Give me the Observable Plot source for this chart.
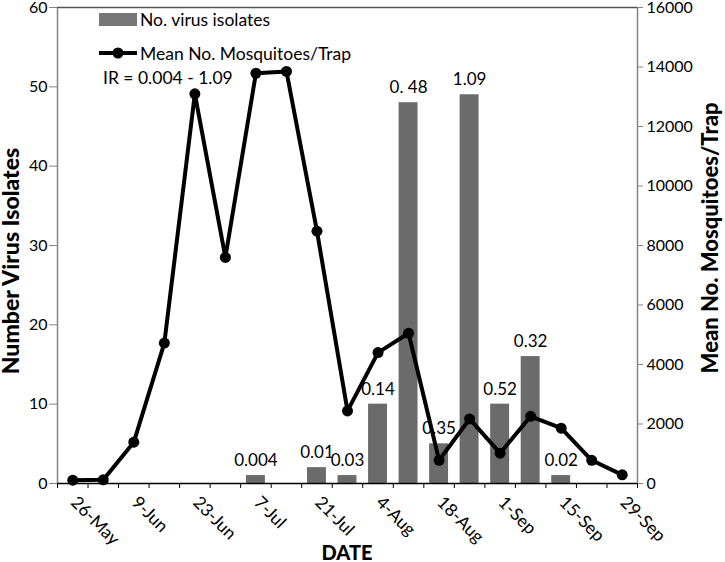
<!DOCTYPE html>
<html><head><meta charset="utf-8">
<script src="https://cdn.jsdelivr.net/npm/d3@7"></script>
<script src="https://cdn.jsdelivr.net/npm/@observablehq/plot@0.6"></script>
<style>body{margin:0;background:#fff} svg{display:block}</style>
</head><body><div id="chart"></div>
<script>
const dates = ["26-May","2-Jun","9-Jun","16-Jun","23-Jun","30-Jun","7-Jul","14-Jul","21-Jul","28-Jul","4-Aug","11-Aug","18-Aug","25-Aug","1-Sep","8-Sep","15-Sep","22-Sep","29-Sep"];
const isolates = [0,0,0,0,0,0,1,0,2,1,10,48,5,49,10,16,1,0,0];
const irLabels = ["","","","","","","0.004","","0.01","0.03","0.14","0. 48","0.35","1.09","0.52","0.32","0.02","",""];
const mosquitoes = [110,125,1390,4720,13100,7600,13790,13850,8480,2440,4400,5050,780,2170,1020,2260,1860,780,290];
const leftTicks = [0,10,20,30,40,50,60];
const rightTicks = [0,2000,4000,6000,8000,10000,12000,14000,16000];

const FONT = "Lato";
const toLeft = v => v * 60 / 16000;
const rows = dates.map((d, i) => ({date: d, i, iso: isolates[i], mosq: mosquitoes[i], ir: irLabels[i]}));
const cx = d => d.i + 0.5;

const chart = Plot.plot({
  width: 725, height: 562,
  marginLeft: 57, marginRight: 88, marginTop: 7, marginBottom: 79,
  style: {fontFamily: FONT, fontSize: "16px", color: "black", background: "white"},
  x: {domain: [0, 19]},
  y: {domain: [0, 60]},
  marks: [
    Plot.rectY(rows.filter(d => d.iso > 0), {x1: "i", x2: d => d.i + 1, y: "iso", fill: "#6b6b6b", insetLeft: 5.8, insetRight: 5.8}),
    Plot.text(rows.filter(d => d.ir), {x: cx, y: "iso", text: "ir", dy: -15, fontSize: 17}),
    Plot.ruleX([0], {stroke: "#858585", strokeWidth: 1.5}),
    Plot.ruleX([19], {stroke: "#858585", strokeWidth: 1.5}),
    Plot.ruleY([60], {stroke: "#555", strokeWidth: 1.5}),
    Plot.line(rows, {x: cx, y: d => toLeft(d.mosq), stroke: "black", strokeWidth: 4}),
    Plot.dot(rows, {x: cx, y: d => toLeft(d.mosq), r: 5.5, fill: "black"}),
    Plot.ruleY([0], {stroke: "black", strokeWidth: 1.5}),
    Plot.axisY(leftTicks, {anchor: "left", tickSize: 8, tickPadding: 2, label: null, stroke: "#858585"}),
    Plot.axisY(rightTicks.map(toLeft), {anchor: "right", tickSize: 5, tickPadding: 4, label: null, stroke: "#858585",
      tickFormat: d => String(Math.round(d * 16000 / 60))}),
    Plot.axisX(d3.range(20), {anchor: "bottom", tickSize: 5, tickFormat: () => "", label: null, stroke: "black"}),
    Plot.text(rows.filter(d => d.i % 2 === 0), {x: cx, y: () => 0, text: "date", rotate: 45, textAnchor: "start", dx: 1, dy: 16, fontSize: 17.5})
  ]
});

const svg = d3.select(chart);
const addText = (x, y, s, opts = {}) => svg.append("text").attr("x", x).attr("y", y)
  .attr("text-anchor", opts.anchor || "start").attr("font-family", FONT)
  .attr("font-size", opts.size || 17.5).attr("font-weight", opts.weight || "normal")
  .attr("transform", opts.transform || null).attr("fill", "black").text(s);
// legend
svg.append("rect").attr("x", 99).attr("y", 13).attr("width", 38).attr("height", 13).attr("fill", "#777");
addText(140, 25.5, "No. virus isolates");
svg.append("line").attr("x1", 99).attr("x2", 137).attr("y1", 53).attr("y2", 53).attr("stroke", "black").attr("stroke-width", 4);
svg.append("circle").attr("cx", 118).attr("cy", 53).attr("r", 5.5).attr("fill", "black");
addText(140, 59.5, "Mean No. Mosquitoes/Trap");
addText(103, 83.5, "IR = 0.004 - 1.09");
// axis titles
addText(0, 0, "Number Virus Isolates", {anchor: "middle", size: 23, weight: 900, transform: "translate(19,261) rotate(-90)"});
addText(0, 0, "Mean No. Mosquitoes/Trap", {anchor: "middle", size: 22, weight: 900, transform: "translate(718,238) rotate(-90)"});
addText(347, 560, "DATE", {anchor: "middle", size: 20, weight: 900});

document.getElementById("chart").append(chart);
</script>
</body></html>
